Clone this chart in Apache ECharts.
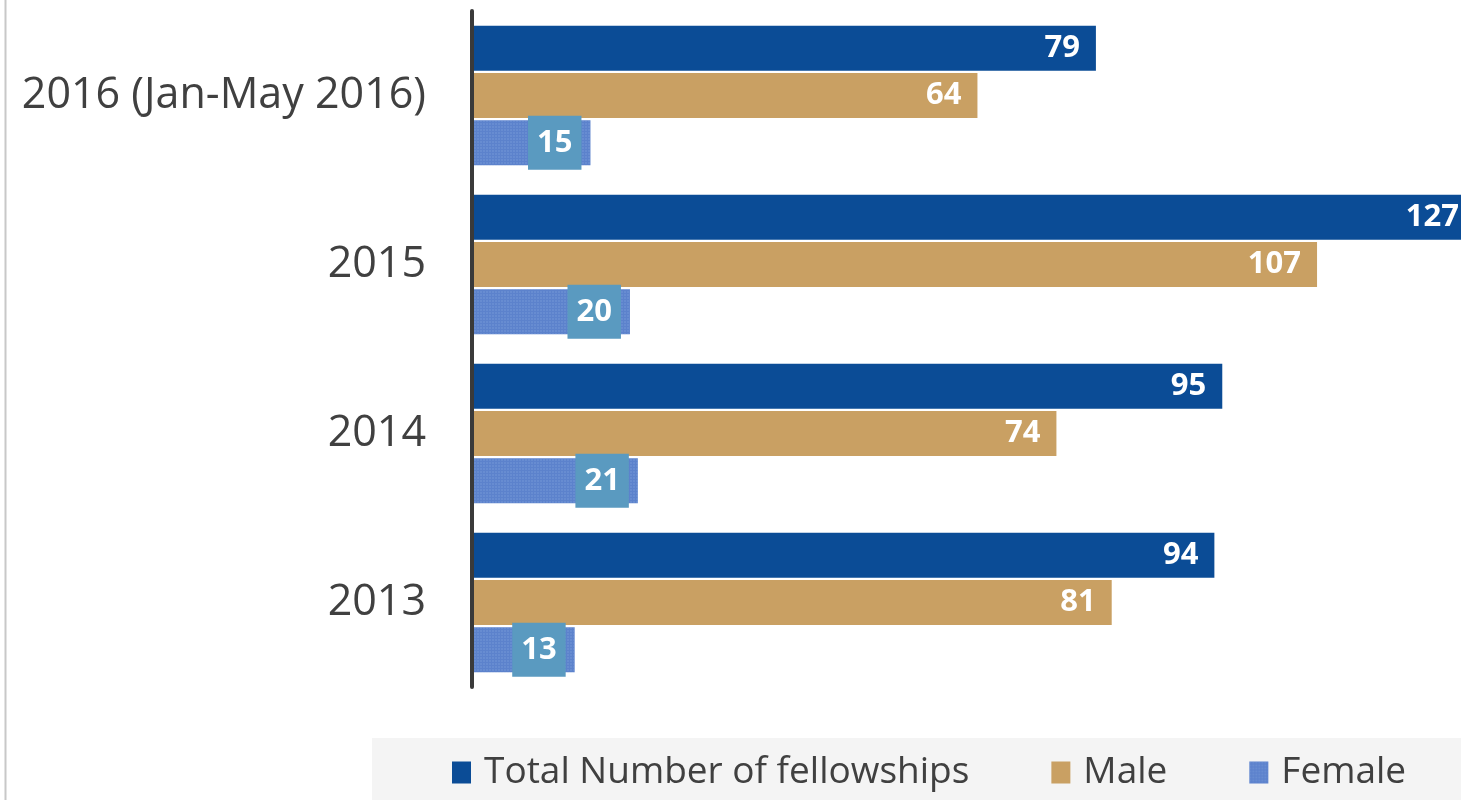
<!DOCTYPE html>
<html><head><meta charset="utf-8">
<script src="https://cdn.jsdelivr.net/npm/echarts@6/dist/echarts.min.js"></script>
<style>html,body{margin:0;padding:0;background:#fff}#c{width:1461px;height:800px}</style>
</head><body><div id="c"></div>
<script>
const categories = ['2016 (Jan-May 2016)', '2015', '2014', '2013'];
const totalValues = [79, 127, 95, 94];
const maleValues = [64, 107, 74, 81];
const femaleValues = [15, 20, 21, 13];
const seriesNames = ['Total Number of fellowships', 'Male', 'Female'];

const FONT = '"Open Sans", "Noto Sans", sans-serif';
const chart = echarts.init(document.getElementById('c'));
const valueLabel = {
  show: true, position: 'insideRight', distance: 16,
  color: '#fff', fontWeight: 'bold', fontSize: 31, fontFamily: FONT
};
chart.setOption({
  animation: false,
  graphic: [
    { type: 'rect', shape: { x: 372, y: 738, width: 1089, height: 62 }, style: { fill: '#f4f4f4' }, silent: true, z: -10 },
    { type: 'line', shape: { x1: 5.5, y1: 0, x2: 5.5, y2: 800 }, style: { stroke: '#c8c8c8', lineWidth: 2 }, silent: true }
  ],
  legend: {
    bottom: 4, left: 447, itemWidth: 19, itemHeight: 22, itemGap: 82,
    icon: 'rect',
    textStyle: { fontSize: 37, color: '#404040', fontFamily: FONT, padding: [0, 0, 0, 8] },
    data: seriesNames
  },
  grid: { left: 472, right: -14, top: 11, bottom: 113, containLabel: false, outerBoundsMode: 'none' },
  xAxis: { type: 'value', min: 0, max: 127, show: false, splitLine: { show: false } },
  yAxis: {
    type: 'category', data: categories, inverse: true, offset: 2, z: 5,
    axisLine: { show: true, lineStyle: { color: '#3a3a3a', width: 4 } },
    axisTick: { show: false },
    axisLabel: { fontSize: 43, color: '#404040', fontFamily: FONT, margin: 44 }
  },
  series: [
    { name: seriesNames[0], type: 'bar', data: totalValues, barWidth: 45, barGap: '5%',
      itemStyle: { color: '#0b4c96' }, label: valueLabel },
    { name: seriesNames[1], type: 'bar', data: maleValues, barWidth: 45, barGap: '5%',
      itemStyle: { color: '#c9a063' }, label: valueLabel },
    { name: seriesNames[2], type: 'bar', data: femaleValues, barWidth: 45, barGap: '5%',
      itemStyle: { color: '#5c82cc', decal: { symbol: 'rect', symbolSize: 0.6, dashArrayX: [2, 1], dashArrayY: [2, 1], color: 'rgba(150,180,230,0.7)' } },
      label: Object.assign({}, valueLabel, { distance: 9, backgroundColor: '#5a9ac0', padding: [10, 9, 10, 9], lineHeight: 34 }) }
  ]
});
</script></body></html>
